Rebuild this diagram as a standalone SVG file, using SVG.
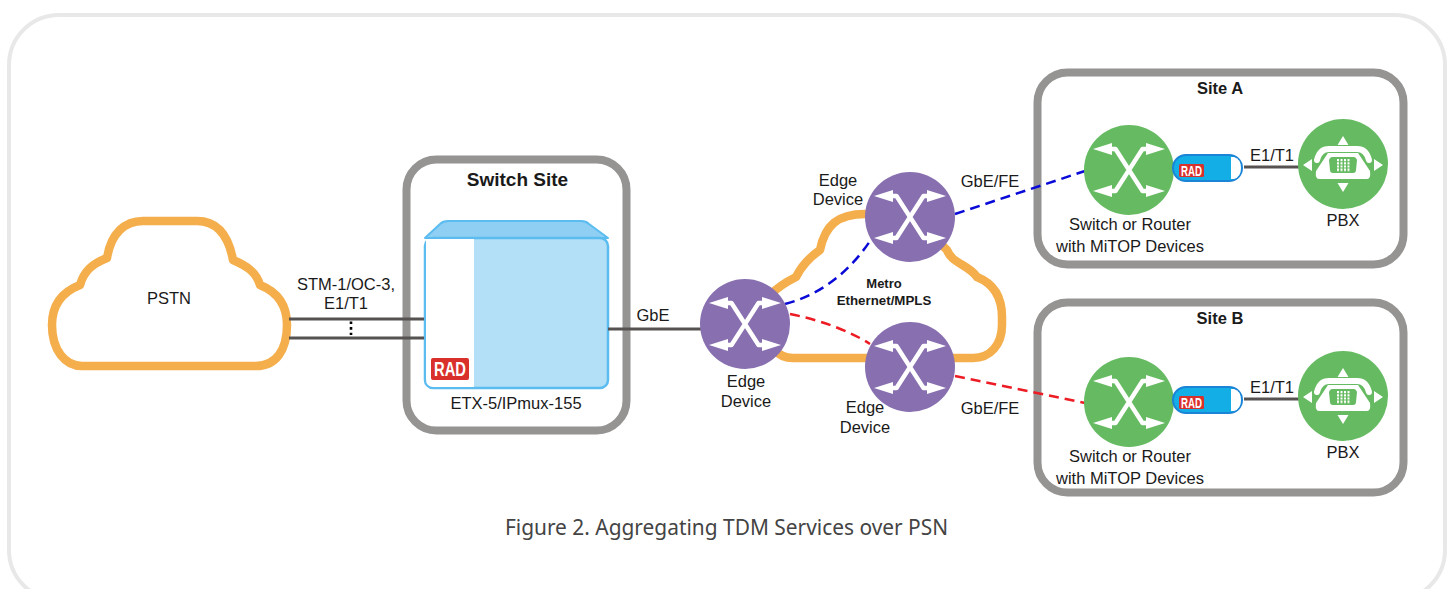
<svg xmlns="http://www.w3.org/2000/svg" width="1448" height="589" viewBox="0 0 1448 589">
<style>
text{font-family:"Liberation Sans",Arial,sans-serif;font-size:16.500px;fill:#1a1a1a;text-anchor:middle}
.b{font-weight:700}
.cap{font-family:"Noto Sans","Open Sans",sans-serif;font-size:20.900px;fill:#444}
.site{fill:#fff;stroke:#959493;stroke-width:8}
.cloud{fill:#fff;stroke:#f4ae4b;stroke-width:8.500;stroke-linejoin:round}
.ln{stroke:#555251;stroke-width:3;fill:none}
.blue{stroke:#0a0ad8;stroke-width:2.500;stroke-dasharray:10 6;fill:none}
.red{stroke:#ed1c24;stroke-width:2.500;stroke-dasharray:10 6;fill:none}
.w{fill:#fff}
.badge{fill:#d9302c}
.rad{fill:#fff;font-weight:700}
</style>
<defs>
<g id="x">
<path d="M-21-21H-13.500L13.500 21H21M21-21H13.500L-13.500 21H-21" fill="none" stroke="#fff" stroke-width="4.400" stroke-linejoin="round"/>
<path class="w" d="M-36-21-17-27V-15ZM36-21 17-27V-15ZM-36 21-17 15V27ZM36 21 17 15V27Z"/>
</g>
<g id="pbx">
<circle r="45" fill="#66bb62"/>
<path class="w" d="M0-28 5.500-19H-5.500ZM0 28 5.500 19H-5.500ZM-40 1-31-5V7ZM40 1 31-5V7Z"/>
<path d="M-26-4C-24-12-19-15-14-15H14C19-15 24-12 26-4" fill="none" stroke="#fff" stroke-width="6" stroke-linecap="round"/>
<path class="w" d="M-15-11H15L27 7Q28 15 24 15H-24Q-28 15-27 7Z"/>
<path fill="#66bb62" d="M-11-7H11Q13-7 14-4L13 6Q13 9 10 9H-10Q-13 9-13 6L-14-4Q-13-7-11-7Z"/>
<path d="M-5-5V8M-1.500-5V8M2-5V8M5.500-5V8" stroke="#fff" stroke-width="2" stroke-dasharray="2.200 1"/>
</g>
<g id="mitop">
<rect x="1" y="1" width="69" height="26" rx="13" fill="#13aee6" stroke="#1b84d6" stroke-width="2"/>
<path class="w" d="M59 3H62Q69 5 69 14 69 23 62 25H59Z"/>
<rect class="badge" x="7" y="10" width="25" height="13" rx="1.500"/>
<text class="rad" x="19.500" y="21.500" style="font-size:14px" textLength="21" lengthAdjust="spacingAndGlyphs">RAD</text>
</g>
</defs>
<rect x="9" y="15" width="1436" height="585" rx="50" fill="#fff" stroke="#e8e8e8" stroke-width="4"/>
<g id="pstn">
<path class="cloud" d="M82 366H256C276 366 287 350 287 325C287 302 275 291 260 285C256 272 247 266 233 260C228 233 215 221 197 221H143C125 221 111 233 107 258C92 264 84 271 80 285C62 292 52 305 52 325C52 350 65 366 82 366Z"/>
<text x="169" y="304">PSTN</text>
</g>
<g id="metro">
<path class="cloud" d="M770 295C778 287 786 282 796 277C802 265 810 257 820 250C825 225 838 214 865 214H910L947 250C952 264 968 264 977 277C992 283 1002 295 1002 317V325C1002 345 990 358 973 358H793C785 358 779 355 775 350"/>
<text class="b" x="884" y="288" style="font-size:13px">Metro</text>
<text class="b" x="884" y="305" style="font-size:13.300px">Ethernet/MPLS</text>
</g>
<g id="switch-site">
<rect class="site" x="406.500" y="159.500" width="220" height="271" rx="30"/>
<text class="b" x="517.500" y="186" style="font-size:19px">Switch Site</text>
</g>
<g id="etx">
<path d="M425 238 440 224Q443 221 448 221H581Q586 221 589 224L608 238Z" fill="#8fcff3" stroke="#5bbcf0" stroke-width="2" stroke-linejoin="round"/>
<rect x="425" y="238" width="183" height="150" rx="8" fill="#b3dff7" stroke="#5bbcf0" stroke-width="2.500"/>
<path class="w" d="M426 239H474V387H434Q426 387 426 379Z"/>
<rect class="badge" x="431" y="358" width="38" height="22" rx="2"/>
<text class="rad" x="450" y="376" style="font-size:21px" textLength="32" lengthAdjust="spacingAndGlyphs">RAD</text>
<text x="516" y="409">ETX-5/IPmux-155</text>
</g>
<g id="site-a">
<rect class="site" x="1037.500" y="72.500" width="366" height="192" rx="30"/>
<text class="b" x="1220" y="94">Site A</text>
</g>
<g id="site-b">
<rect class="site" x="1037.500" y="302.500" width="366" height="190" rx="30"/>
<text class="b" x="1220" y="324">Site B</text>
</g>
<g id="connectors">
<path class="ln" d="M289 319H424M289 338H424M608 329H702M1244 167H1300M1244 399H1300"/>
<path d="M351 321.500V335" stroke="#000" stroke-width="2.600" stroke-dasharray="2.600 3" fill="none"/>
<path class="blue" d="M785 304C820 295 850 272 872 238"/>
<path class="blue" d="M955 214 1085 171"/>
<path class="red" d="M790 314C820 320 850 331 870 344"/>
<path class="red" d="M955 376 1085 403"/>
</g>
<g id="edge-left"><circle cx="745" cy="324" r="45" fill="#8870b0"/><use href="#x" x="745" y="324"/><text x="746" y="387">Edge</text><text x="746" y="407">Device</text></g>
<g id="edge-top"><circle cx="910" cy="217" r="45" fill="#8870b0"/><use href="#x" x="910" y="217"/><text x="838" y="186">Edge</text><text x="838" y="205">Device</text></g>
<g id="edge-bottom"><circle cx="910" cy="367" r="45" fill="#8870b0"/><use href="#x" x="910" y="367"/><text x="865" y="413">Edge</text><text x="865" y="433">Device</text></g>
<g id="switch-a"><circle cx="1129" cy="170" r="45" fill="#66bb62"/><use href="#x" x="1129" y="170"/><text x="1130" y="230">Switch or Router</text><text x="1130" y="252">with MiTOP Devices</text></g>
<g id="switch-b"><circle cx="1129" cy="402" r="45" fill="#66bb62"/><use href="#x" x="1129" y="402"/><text x="1130" y="462">Switch or Router</text><text x="1130" y="484">with MiTOP Devices</text></g>
<g id="mitop-a"><use href="#mitop" x="1172" y="154"/></g>
<g id="mitop-b"><use href="#mitop" x="1172" y="386"/></g>
<g id="pbx-a"><use href="#pbx" x="1343" y="164"/><text x="1343" y="226">PBX</text></g>
<g id="pbx-b"><use href="#pbx" x="1343" y="396"/><text x="1343" y="458">PBX</text></g>
<g id="labels">
<text x="346" y="290">STM-1/OC-3,</text><text x="346" y="309">E1/T1</text>
<text x="653" y="321">GbE</text>
<text x="990" y="187">GbE/FE</text><text x="990" y="414">GbE/FE</text>
<text x="1272" y="161">E1/T1</text><text x="1272" y="393">E1/T1</text>
<text class="cap" x="726.500" y="535">Figure 2. Aggregating TDM Services over PSN</text>
</g>
</svg>
